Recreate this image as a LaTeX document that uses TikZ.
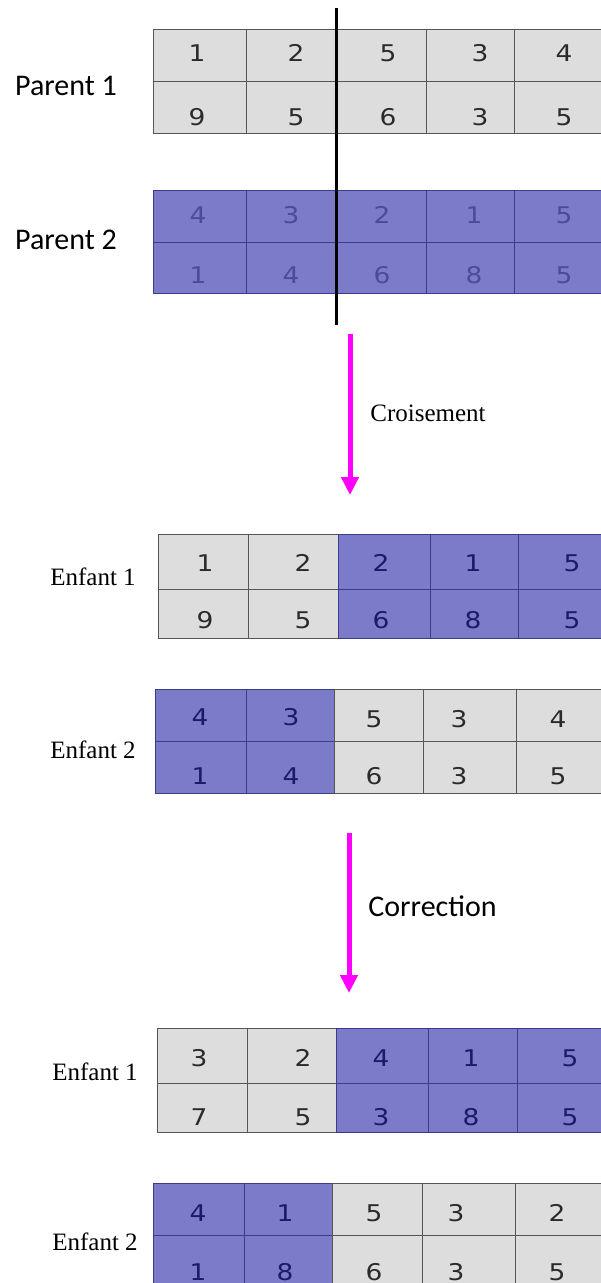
\documentclass[tikz,border=0pt]{standalone}
\usepackage{fontspec}
\setmainfont{Liberation Serif}
\newfontfamily\labelfont{Carlito}
\newfontfamily\cellfont[FakeStretch=1.15]{DejaVu Sans}
\usetikzlibrary{arrows.meta}
\definecolor{cellgrey}{HTML}{DDDDDD}
\definecolor{cellblue}{HTML}{7B7BC9}
\definecolor{greyline}{HTML}{555555}
\definecolor{blueline}{HTML}{3C3C8C}
\definecolor{numgrey}{HTML}{2A2A2A}
\definecolor{numpale}{HTML}{4B4B9B}
\definecolor{numnavy}{HTML}{1A1A66}
\definecolor{pinkarrow}{HTML}{FF00FF}
\tikzset{
  greycell/.style={draw=greyline, fill=cellgrey, line width=0.5pt},
  bluecell/.style={draw=blueline, fill=cellblue, line width=0.5pt},
  num/.style={font=\cellfont\fontsize{11.5}{12}\selectfont, text=numgrey, inner sep=0pt},
  parentlabel/.style={font=\labelfont\fontsize{15}{16}\selectfont, inner sep=0pt},
  childlabel/.style={font=\fontsize{12.5}{14}\selectfont, inner sep=0pt},
  steparrow/.style={draw=pinkarrow, line width=2.5pt, -{Triangle[width=8.5pt,length=9pt]}}
}
\begin{document}
\begin{tikzpicture}[x=0.5pt,y=-0.5pt]
\useasboundingbox (0,0) rectangle (600,1283);
\node[parentlabel] (par1) at (66,86) {Parent 1};
\foreach \a/\b in {153/246,246/336,336/426,426/514,514/610} {
  \draw[greycell] (\a,30) rectangle (\b,82);
  \draw[greycell] (\a,82) rectangle (\b,134);
}
\foreach \x/\v [count=\i] in {197/1,296/2,388/5,480/3,564/4}
  \node[num] (pa\i) at (\x,53) {\v};
\foreach \x/\v [count=\i] in {197/9,296/5,388/6,480/3,564/5}
  \node[num] (pb\i) at (\x,117) {\v};
\node[parentlabel] (par2) at (66,240) {Parent 2};
\foreach \a/\b in {153/246,246/336,336/426,426/514,514/610} {
  \draw[bluecell] (\a,191) rectangle (\b,243);
  \draw[bluecell] (\a,243) rectangle (\b,294);
}
\foreach \x/\v [count=\i] in {198/4,291/3,382/2,474/1,564/5}
  \node[num, text=numpale] (qa\i) at (\x,215) {\v};
\foreach \x/\v [count=\i] in {198/1,291/4,382/6,474/8,564/5}
  \node[num, text=numpale] (qb\i) at (\x,275) {\v};
\coordinate (cuttop) at (336,8);
\coordinate (cutbot) at (336,325);
\draw[line width=1.5pt] (cuttop) -- (cutbot);
\coordinate (crossA) at (350,334);
\coordinate (crossB) at (350,495);
\draw[steparrow] (crossA) -- (crossB);
\node[childlabel, anchor=west] (crois) at (370,413) {Croisement};
\node[childlabel] (enf1) at (93,577) {Enfant 1};
\foreach \a/\b in {158/248,248/338} {
  \draw[greycell] (\a,534) rectangle (\b,589);
  \draw[greycell] (\a,589) rectangle (\b,638);
}
\foreach \a/\b in {338/430,430/518,518/610} {
  \draw[bluecell] (\a,534) rectangle (\b,589);
  \draw[bluecell] (\a,589) rectangle (\b,638);
}
\foreach \x/\v [count=\i] in {205/1,303/2} \node[num] (ea\i) at (\x,563) {\v};
\foreach \x/\v [count=\i] in {381/2,473/1,572/5} \node[num, text=numnavy] (ec\i) at (\x,563) {\v};
\foreach \x/\v [count=\i] in {205/9,303/5} \node[num] (eb\i) at (\x,620) {\v};
\foreach \x/\v [count=\i] in {381/6,473/8,572/5} \node[num, text=numnavy] (ed\i) at (\x,620) {\v};
\node[childlabel] (enf2) at (93,750) {Enfant 2};
\foreach \a/\b in {155/246,246/334} {
  \draw[bluecell] (\a,689) rectangle (\b,741);
  \draw[bluecell] (\a,741) rectangle (\b,793);
}
\foreach \a/\b in {334/423,423/516,516/610} {
  \draw[greycell] (\a,689) rectangle (\b,741);
  \draw[greycell] (\a,741) rectangle (\b,793);
}
\foreach \x/\v [count=\i] in {200/4,291/3} \node[num, text=numnavy] (fa\i) at (\x,717) {\v};
\foreach \x/\v [count=\i] in {374/5,459/3,558/4} \node[num] (fc\i) at (\x,719) {\v};
\foreach \x/\v [count=\i] in {200/1,291/4} \node[num, text=numnavy] (fb\i) at (\x,776) {\v};
\foreach \x/\v [count=\i] in {374/6,459/3,558/5} \node[num] (fd\i) at (\x,776) {\v};
\coordinate (corrA) at (349,833);
\coordinate (corrB) at (349,993);
\draw[steparrow] (corrA) -- (corrB);
\node[parentlabel, anchor=west] (corr) at (368,906) {Correction};
\node[childlabel] (enf3) at (95,1072) {Enfant 1};
\foreach \a/\b in {157/247,247/336} {
  \draw[greycell] (\a,1028) rectangle (\b,1083);
  \draw[greycell] (\a,1083) rectangle (\b,1132);
}
\foreach \a/\b in {336/428,428/517,517/610} {
  \draw[bluecell] (\a,1028) rectangle (\b,1083);
  \draw[bluecell] (\a,1083) rectangle (\b,1132);
}
\foreach \x/\v [count=\i] in {199/3,303/2} \node[num] (ga\i) at (\x,1058) {\v};
\foreach \x/\v [count=\i] in {381/4,471/1,570/5} \node[num, text=numnavy] (gc\i) at (\x,1058) {\v};
\foreach \x/\v [count=\i] in {199/7,303/5} \node[num] (gb\i) at (\x,1117) {\v};
\foreach \x/\v [count=\i] in {381/3,471/8,570/5} \node[num, text=numnavy] (gd\i) at (\x,1117) {\v};
\node[childlabel] (enf4) at (95,1242) {Enfant 2};
\foreach \a/\b in {153/244,244/332} {
  \draw[bluecell] (\a,1183) rectangle (\b,1235);
  \draw[bluecell] (\a,1235) rectangle (\b,1295);
}
\foreach \a/\b in {332/422,422/515,515/610} {
  \draw[greycell] (\a,1183) rectangle (\b,1235);
  \draw[greycell] (\a,1235) rectangle (\b,1295);
}
\foreach \x/\v [count=\i] in {198/4,285/1} \node[num, text=numnavy] (ha\i) at (\x,1213) {\v};
\foreach \x/\v [count=\i] in {374/5,456/3,557/2} \node[num] (hc\i) at (\x,1213) {\v};
\foreach \x/\v [count=\i] in {198/1,285/8} \node[num, text=numnavy] (hb\i) at (\x,1272) {\v};
\foreach \x/\v [count=\i] in {374/6,456/3,557/5} \node[num] (hd\i) at (\x,1272) {\v};
\end{tikzpicture}
\end{document}
